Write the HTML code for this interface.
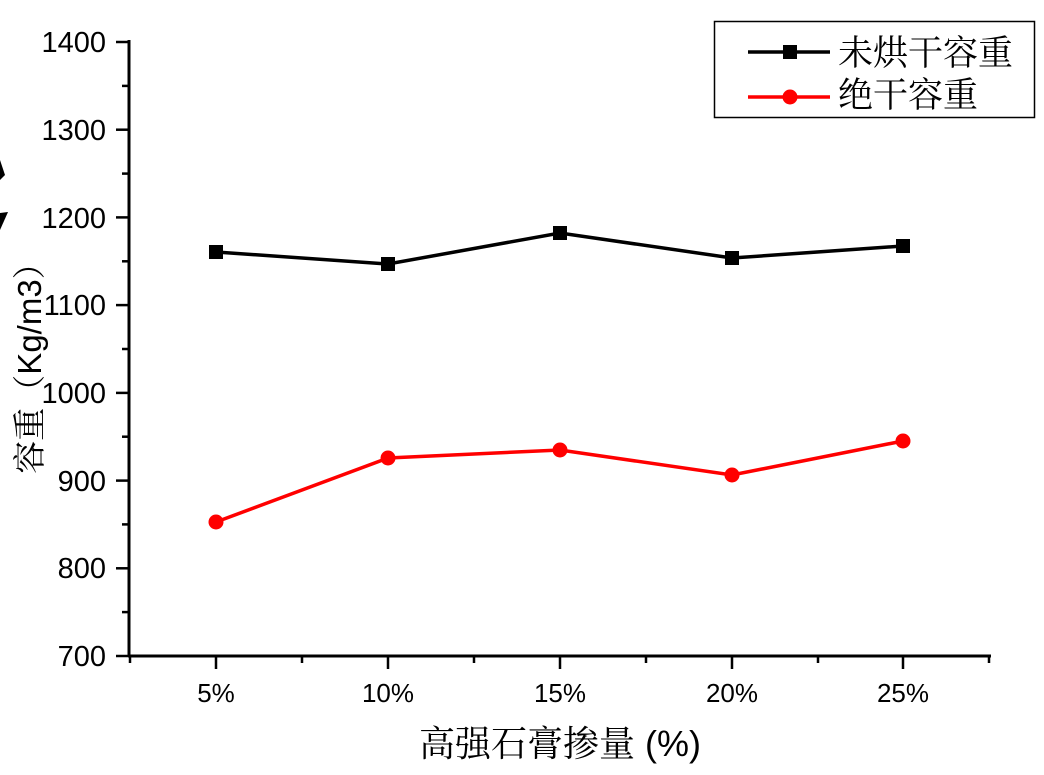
<!DOCTYPE html>
<html><head><meta charset="utf-8"><style>body{margin:0;background:#fff}svg{display:block}</style></head><body>
<svg width="1044" height="775" xmlns="http://www.w3.org/2000/svg" font-family="Liberation Sans, Arial, sans-serif">
<rect width="1044" height="775" fill="#fff"/>
<polygon points="0,160 5,175 0,180" fill="#000"/>
<polygon points="0,213 8,212 0,230" fill="#000"/>
<g stroke="#000" stroke-width="3" fill="none">
<line x1="129" y1="40" x2="129" y2="657"/>
<line x1="128" y1="656" x2="991" y2="656"/>
</g>
<g stroke="#000" stroke-width="2.5">
<line x1="116" y1="42" x2="129" y2="42"/><line x1="116" y1="129.7" x2="129" y2="129.7"/><line x1="116" y1="217.4" x2="129" y2="217.4"/><line x1="116" y1="305.1" x2="129" y2="305.1"/><line x1="116" y1="392.9" x2="129" y2="392.9"/><line x1="116" y1="480.6" x2="129" y2="480.6"/><line x1="116" y1="568.3" x2="129" y2="568.3"/><line x1="116" y1="656" x2="129" y2="656"/>
<line x1="122" y1="85.9" x2="129" y2="85.9"/><line x1="122" y1="173.6" x2="129" y2="173.6"/><line x1="122" y1="261.3" x2="129" y2="261.3"/><line x1="122" y1="349" x2="129" y2="349"/><line x1="122" y1="436.7" x2="129" y2="436.7"/><line x1="122" y1="524.4" x2="129" y2="524.4"/><line x1="122" y1="612.1" x2="129" y2="612.1"/>
<line x1="216" y1="656" x2="216" y2="669"/><line x1="388" y1="656" x2="388" y2="669"/><line x1="560" y1="656" x2="560" y2="669"/><line x1="732" y1="656" x2="732" y2="669"/><line x1="903" y1="656" x2="903" y2="669"/>
<line x1="130" y1="656" x2="130" y2="663"/><line x1="302" y1="656" x2="302" y2="663"/><line x1="474" y1="656" x2="474" y2="663"/><line x1="646" y1="656" x2="646" y2="663"/><line x1="818" y1="656" x2="818" y2="663"/><line x1="989" y1="656" x2="989" y2="663"/>
</g>
<g font-size="29" text-anchor="end" fill="#000">
<text x="106" y="52">1400</text><text x="106" y="140">1300</text><text x="106" y="228">1200</text><text x="106" y="315">1100</text><text x="106" y="403">1000</text><text x="106" y="491">900</text><text x="106" y="578">800</text><text x="106" y="666">700</text>
</g>
<g font-size="26" text-anchor="middle" fill="#000">
<text x="216" y="702">5%</text><text x="388" y="702">10%</text><text x="560" y="702">15%</text><text x="732" y="702">20%</text><text x="903" y="702">25%</text>
</g>
<text x="560" y="756" font-size="36" text-anchor="middle" font-family="Liberation Sans, Noto Serif CJK SC, serif">高强石膏掺量 (%)</text>
<text transform="translate(41,360) rotate(-90)" font-size="33" text-anchor="middle" font-family="Liberation Sans, Noto Serif CJK SC, serif">容重（Kg/m3）</text>
<polyline points="216,252 388,264 560,233 732,258 903,246" fill="none" stroke="#000" stroke-width="3.5"/>
<g fill="#000"><rect x="209" y="245" width="14" height="14"/><rect x="381" y="257" width="14" height="14"/><rect x="553" y="226" width="14" height="14"/><rect x="725" y="251" width="14" height="14"/><rect x="896" y="239" width="14" height="14"/></g>
<polyline points="216,522 388,458 560,450 732,475 903,441" fill="none" stroke="#f00" stroke-width="3.5"/>
<g fill="#f00"><circle cx="216" cy="522" r="7.5"/><circle cx="388" cy="458" r="7.5"/><circle cx="560" cy="450" r="7.5"/><circle cx="732" cy="475" r="7.5"/><circle cx="903" cy="441" r="7.5"/></g>
<rect x="714.5" y="21.5" width="320" height="96" fill="#fff" stroke="#000" stroke-width="1.5"/>
<line x1="748" y1="52" x2="830" y2="52" stroke="#000" stroke-width="3.5"/><rect x="783" y="45" width="14" height="14" fill="#000"/>
<line x1="748" y1="97" x2="830" y2="97" stroke="#f00" stroke-width="3.5"/><circle cx="790" cy="97" r="7.5" fill="#f00"/>
<g font-size="35" font-family="Liberation Serif, Noto Serif CJK SC, serif"><text x="838" y="65">未烘干容重</text><text x="838" y="107">绝干容重</text></g>
</svg>
</body></html>
